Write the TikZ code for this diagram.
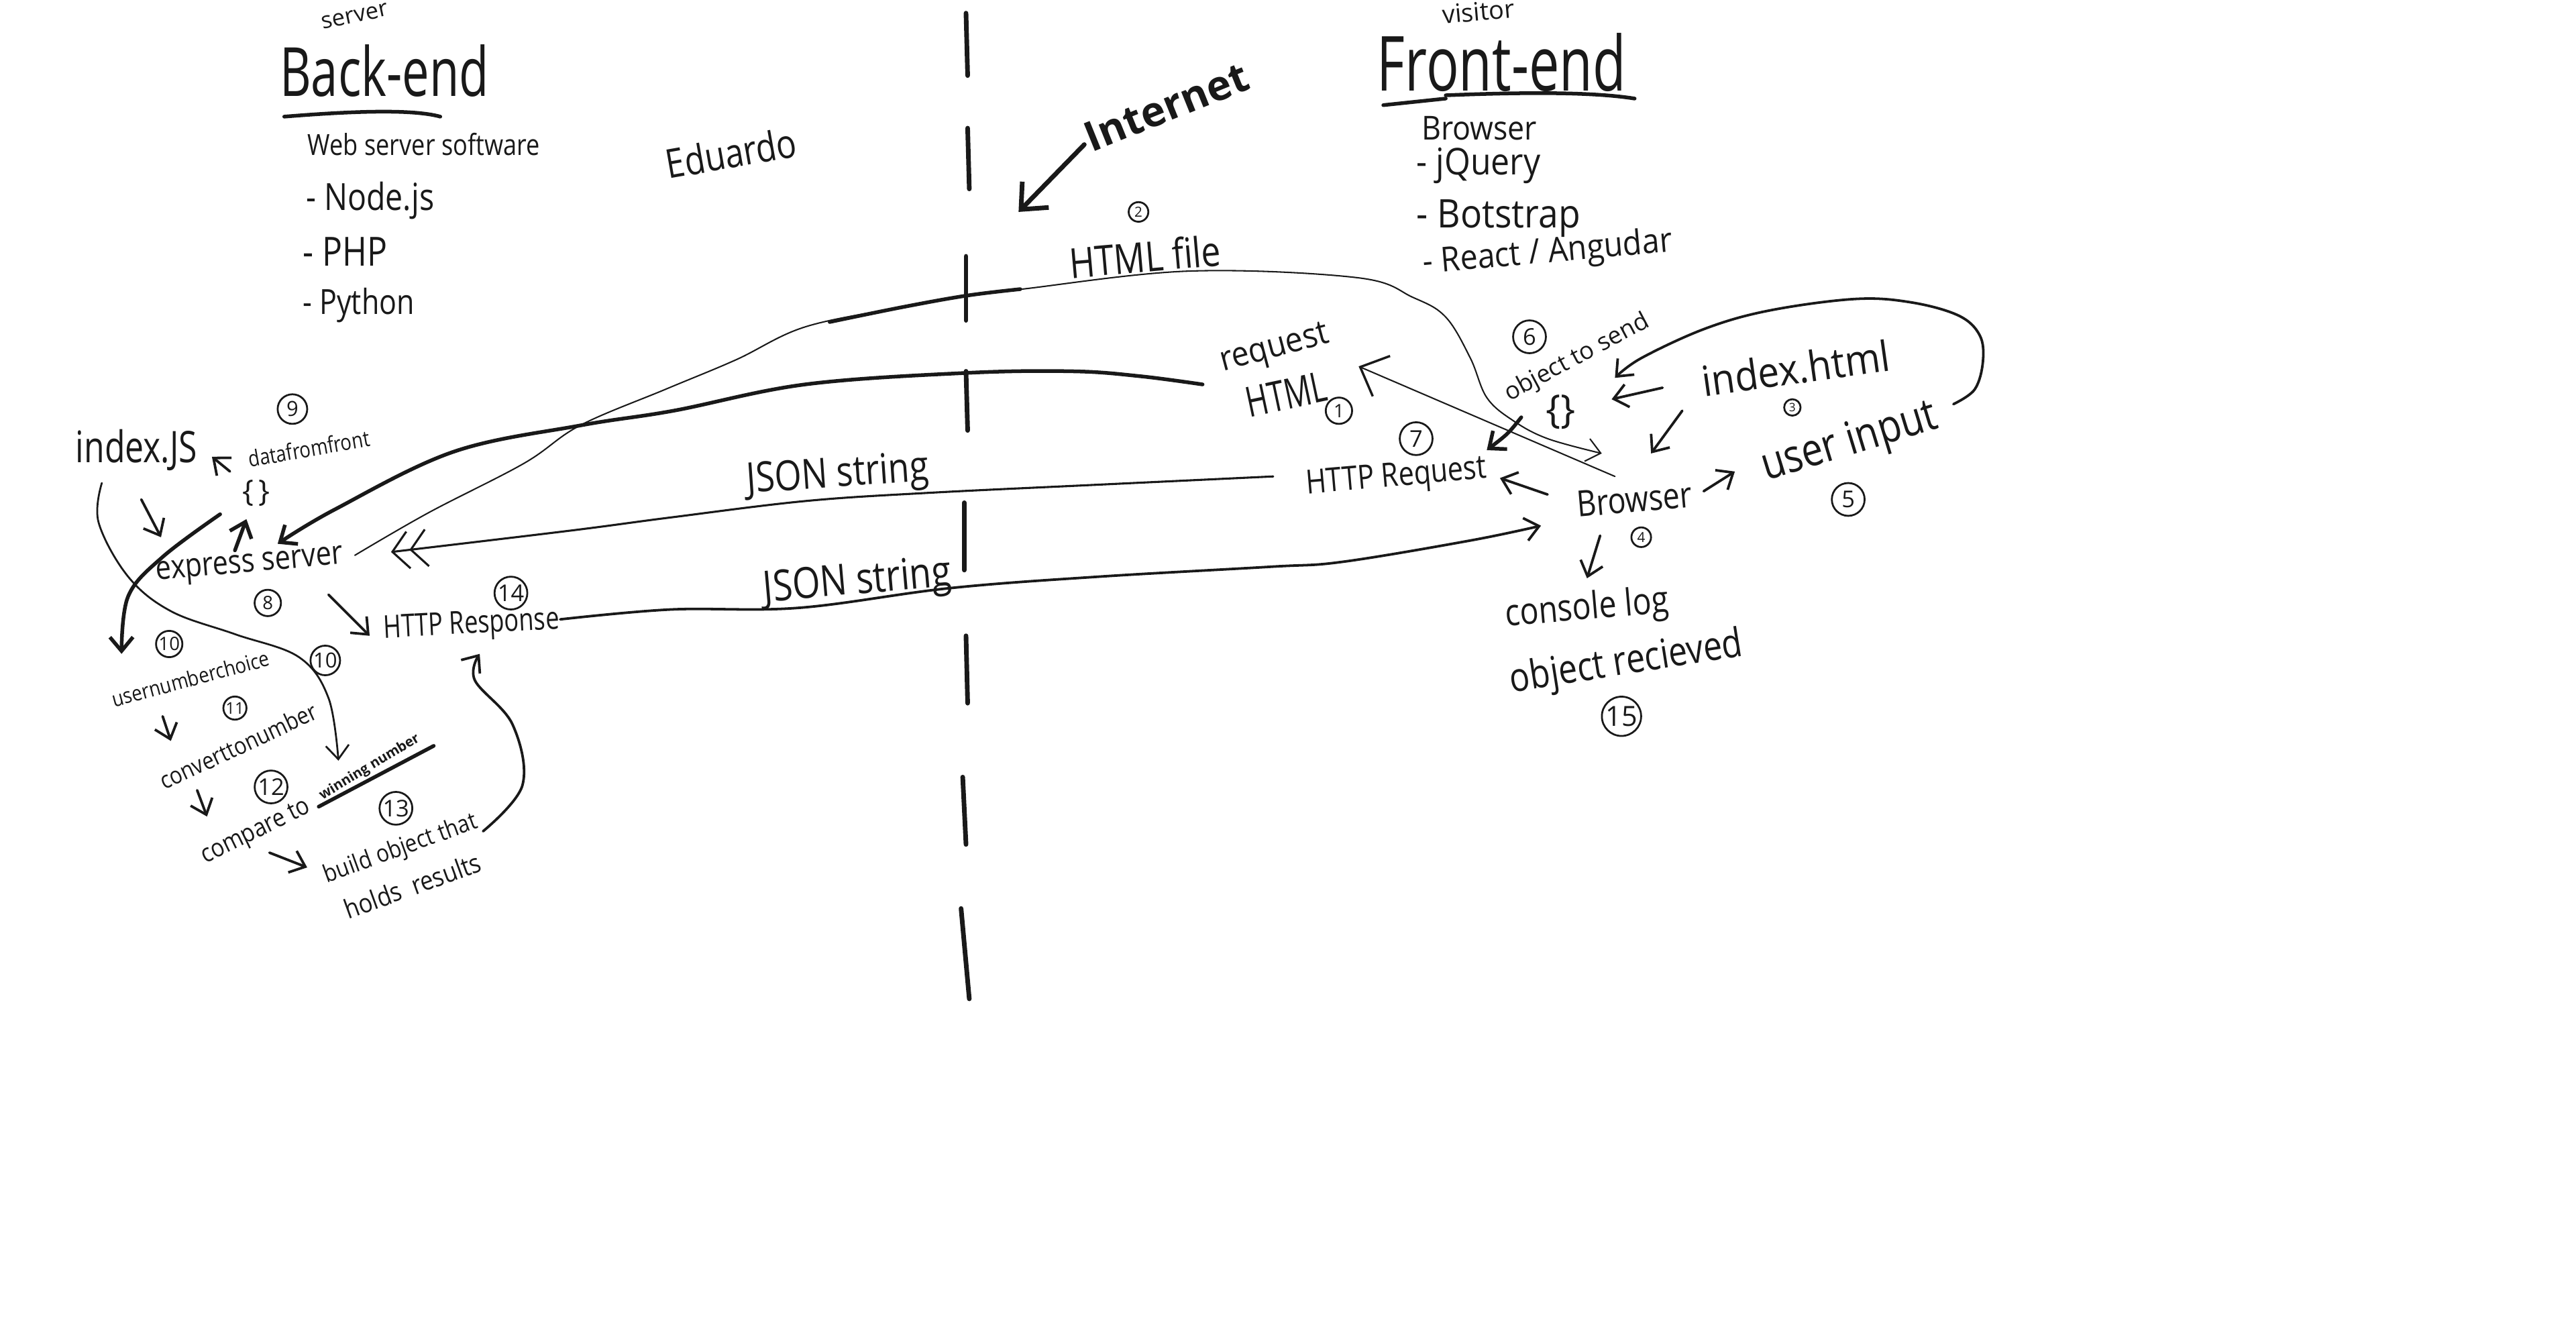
\documentclass[tikz,border=0pt]{standalone}
\usepackage{fontspec}
\setmainfont{Open Sans}
\usetikzlibrary{arrows.meta}
\newcommand\sz[1]{\fontsize{#1}{#1}\selectfont}
\begin{document}
\begin{tikzpicture}[x=0.025cm, y=-0.025cm,
  ink/.style={line cap=round, line join=round, black!90},
  fine/.style={ink, line width=0.6pt},
  med/.style={ink, line width=1.1pt},
  heavy/.style={ink, line width=1.6pt},
  arr/.style={-{Straight Barb[length=6pt,width=10pt]}},
  bigarr/.style={-{Straight Barb[length=9pt,width=16pt]}},
  dbarb/.style={-{Straight Barb[length=7pt,width=16pt] Straight Barb[length=7pt,width=16pt]}},
  txt/.style={inner sep=0pt, text=black!90},
  num/.style 2 args={circle, draw=black!90, line width=0.8pt, inner sep=0pt,
    minimum size=#1, font=\sz{#2}, text=black!90},
]
\fill[white] (0,0) rectangle (1568,815);
\useasboundingbox (0,0) rectangle (1568,815);

% ---------- the internet divide
\foreach \xa/\ya/\xb/\yb in {588/8/589/46, 589/78/590/115, 588/156/588/195, 588/226/589/262,
  587/306/587/347, 588/387/589/428, 586/473/588/514, 585/553/590/608}
  \draw[ink, line width=2pt] (\xa,\ya) -- (\xb,\yb);

\node[txt, rotate=22, font=\bfseries] (internet) at (710,65) {\sz{18}Internet};
\coordinate (inetFrom) at (660,88);
\coordinate (inetTo) at (620,129);
\draw[ink, line width=2pt, bigarr] (inetFrom) -- (inetTo);

% ---------- back-end column
\node[txt, rotate=12] (srv) at (216,10) {\sz{10}server};
\node[txt, yscale=1.4] (backend) at (234,43) {\sz{21}Back-end};
\draw[heavy] (173,71) .. controls (210,68) and (250,66) .. (268,71);
\node[txt, yscale=1.2] (websw) at (258,88) {\sz{10.5}Web server software};
\node[txt, anchor=west, yscale=1.2] (nodejs) at (186,122) {\sz{13.5}- Node.js};
\node[txt, anchor=west, yscale=1.2] (php) at (184,153) {\sz{14.5}- PHP};
\node[txt, anchor=west, yscale=1.2] (python) at (184,186) {\sz{12.5}- Python};
\node[txt, rotate=10, yscale=1.2] (eduardo) at (445,93) {\sz{14.5}Eduardo};

% ---------- front-end column
\node[txt, rotate=5] (visitor) at (900,7) {\sz{11}visitor};
\node[txt, yscale=1.4] (frontend) at (914,38) {\sz{23.5}Front-end};
\draw[heavy] (842,64) -- (880,60);
\draw[heavy] (880,58) .. controls (930,56) and (970,56) .. (995,60);
\node[txt, anchor=west, yscale=1.1] (browserL) at (865,78) {\sz{13}Browser};
\node[txt, anchor=west, yscale=1.1] (jquery) at (862,101) {\sz{14.5}- jQuery};
\node[txt, anchor=west, yscale=1.1] (botstrap) at (862,133) {\sz{15.5}- Botstrap};
\node[txt, anchor=west, rotate=5, yscale=1.1] (react) at (866,161) {\sz{13.5}- React / Angudar};

% ---------- labels in the middle
\node[num={8.5pt}{6}] (n2) at (693,129) {2};
\node[txt, rotate=5, yscale=1.2] (htmlfile) at (697,156) {\sz{15}HTML file};
\node[txt, rotate=15, yscale=1.1] (request) at (776,213) {\sz{13.5}request};
\node[txt, rotate=12, yscale=1.4] (html) at (783,240) {\sz{13}HTML};
\node[num={11.4pt}{8}] (n1) at (815,250) {1};
\node[txt, rotate=4, yscale=1.2] (json1) at (510,290) {\sz{15}JSON string};
\node[txt, rotate=5, yscale=1.2] (json2) at (522,355) {\sz{15.5}JSON string};

% ---------- browser side
\node[txt, rotate=8, yscale=1.1] (indexhtml) at (1093,224) {\sz{16.5}index.html};
\node[num={7.1pt}{5}] (n3) at (1091,248) {3};
\node[txt, rotate=28] (objsend) at (960,218) {\sz{10.5}object to send};
\node[num={14.2pt}{10}] (n6) at (931,205) {6};
\node[txt] (obraces) at (950,251) {\sz{17}\{\}};
\node[num={14.2pt}{10}] (n7) at (862,267) {7};
\node[txt, rotate=5, yscale=1.2] (httpreq) at (850,291) {\sz{12}HTTP Request};
\node[txt, rotate=5, yscale=1.2] (browser) at (995,304) {\sz{13}Browser};
\node[num={8.5pt}{6}] (n4) at (999,327) {4};
\node[txt, rotate=17, yscale=1.2] (userinput) at (1126,270) {\sz{16.5}user input};
\node[num={14.2pt}{10}] (n5) at (1125,304) {5};
\node[txt, rotate=5, yscale=1.2] (console) at (966,371) {\sz{13.5}console log};
\node[txt, rotate=9, yscale=1.2] (objrec) at (990,404) {\sz{14.5}object recieved};
\node[num={17pt}{12}] (n15) at (987,436) {15};

% ---------- server side
\node[txt, yscale=1.3] (indexjs) at (83,274) {\sz{14.5}index.JS};
\node[num={12.8pt}{9}] (n9) at (178,249) {9};
\node[txt, rotate=10, yscale=1.2] (datafront) at (188,273) {\sz{8}datafromfront};
\node[txt] (sbraces) at (156,300) {\sz{13}\{\,\}};
\node[txt, rotate=5, yscale=1.2] (express) at (152,345) {\sz{12}express server};
\node[num={11.4pt}{8}] (n8) at (163,367) {8};
\node[txt, rotate=3, yscale=1.3] (httpres) at (287,381) {\sz{10.5}HTTP Response};
\node[num={14.2pt}{10}] (n14) at (311,361) {14};
\node[num={11.4pt}{8}] (n10a) at (103,392) {10};
\node[txt, rotate=15, yscale=1.15] (usernum) at (116,413) {\sz{8}usernumberchoice};
\node[num={12.8pt}{9}] (n10b) at (198,402) {10};
\node[num={10pt}{7}] (n11) at (143,431) {11};
\node[txt, rotate=25, yscale=1.15] (convert) at (145,454) {\sz{9}converttonumber};
\node[num={14.2pt}{10}] (n12) at (165,479) {12};
\node[txt, rotate=26, yscale=1.15] (compare) at (156,507) {\sz{9.6}compare to};
\node[txt, rotate=31, font=\bfseries] (winning) at (225,467) {\sz{6}winning number};
\draw[heavy] (194,491) -- (264,454);
\node[num={14.2pt}{10}] (n13) at (241,492) {13};
\node[txt, rotate=20, yscale=1.15] (build) at (244,517) {\sz{9.2}build object that};
\node[txt, rotate=20, yscale=1.15] (holds) at (251,539) {\sz{10}holds\ \ results};

% ---------- connector ends
\coordinate (reqS) at (732,234);
\coordinate (expA) at (169,331);
\coordinate (expB) at (216,338);
\coordinate (brA) at (975,276);
\coordinate (hreqW) at (775,290);
\coordinate (expC) at (238,336);
\coordinate (hresE) at (341,377);
\coordinate (brB) at (938,320);
\coordinate (brC) at (983,290);
\coordinate (reqT) at (827,223);
\coordinate (uiR) at (1189,246);
\coordinate (brcT) at (983,230);
\coordinate (ihW) at (1012,236);
\coordinate (brcE) at (981,243);
\coordinate (ihS) at (1024,250);
\coordinate (brN) at (1005,276);
\coordinate (brcS) at (926,254);
\coordinate (hreqE) at (905,274);
\coordinate (brW) at (942,301);
\coordinate (hreqE2) at (913,291);
\coordinate (brE) at (1037,299);
\coordinate (uiW) at (1056,287);
\coordinate (brS) at (974,326);
\coordinate (conN) at (966,352);
\coordinate (ijsS) at (86,304);
\coordinate (ijsT) at (98,327);
\coordinate (ijsL) at (62,294);
\coordinate (cmpN) at (206,463);
\coordinate (dffW) at (140,287);
\coordinate (ijsE) at (129,278);
\coordinate (expN) at (143,335);
\coordinate (sbrS) at (150,316);
\coordinate (expL) at (134,313);
\coordinate (unN) at (74,398);
\coordinate (expE) at (200,362);
\coordinate (hresW) at (225,387);
\coordinate (unS) at (99,436);
\coordinate (cvN) at (104,451);
\coordinate (cvS) at (120,481);
\coordinate (cmpW) at (126,497);
\coordinate (cmpS) at (164,519);
\coordinate (bldW) at (187,528);
\coordinate (bldE) at (294,506);
\coordinate (hresS) at (292,398);

% ---------- page request and the HTML file
\draw[heavy, arr] plot[smooth, tension=0.6] coordinates {(reqS) (694,229) (653,226) (588,227) (490,234) (410,250) (353,259) (276,275) (204,310) (expA)};
\draw[fine, arr] plot[smooth, tension=0.6] coordinates {(expB) (261,312) (319,282) (353,259) (405,237) (448,219) (490,199) (549,187) (588,180) (622,176) (724,165) (826,169) (860,181) (880,193) (895,218) (905,242) (921,256) (942,267) (brA)};
\draw[heavy] plot[smooth, tension=0.6] coordinates {(505,196) (549,187) (588,180) (621,176)};
\draw[fine, -{Straight Barb[length=10pt,width=19pt,line width=1pt]}] (brC) -- (reqT);

% ---------- JSON strings across the internet
\draw[ink, line width=0.9pt, dbarb] plot[smooth, tension=0.6] coordinates {(hreqW) (669,295) (565,300) (490,305) (408,315) (347,323) (expC)};
\draw[med, arr] plot[smooth, tension=0.6] coordinates {(hresE) (408,371) (486,370) (578,358) (669,351) (773,345) (817,342) (895,329) (brB)};

% ---------- browser steps
\draw[med, arr] plot[smooth, tension=0.6] coordinates {(uiR) (1202,237) (1207,220) (1205,204) (1192,192) (1163,184) (1129,182) (1077,189) (1038,200) (999,218) (brcT)};
\draw[med, arr] (ihW) -- (brcE);
\draw[med, arr] (ihS) -- (brN);
\draw[heavy, arr] (brcS) .. controls (918,264) .. (hreqE);
\draw[med, arr] (brW) -- (hreqE2);
\draw[med, arr] (brE) -- (uiW);
\draw[med, arr] (brS) -- (conN);

% ---------- server steps
\draw[med, arr] (ijsS) -- (ijsT);
\draw[ink, line width=0.8pt, arr] plot[smooth, tension=0.6] coordinates {(ijsL) (60,318) (78,351) (104,372) (143,386) (182,400) (200,425) (cmpN)};
\draw[med, arr] (dffW) -- (ijsE);
\draw[heavy, arr] (expN) -- (sbrS);
\draw[heavy, arr] plot[smooth, tension=0.6] coordinates {(expL) (99,339) (78,363) (unN)};
\draw[med, arr] (expE) -- (hresW);
\draw[med, arr] (unS) -- (cvN);
\draw[med, arr] (cvS) -- (cmpW);
\draw[med, arr] (cmpS) -- (bldW);
\draw[med, arr] plot[smooth, tension=0.6] coordinates {(bldE) (318,478) (312,441) (289,414) (hresS)};
\end{tikzpicture}
\end{document}
